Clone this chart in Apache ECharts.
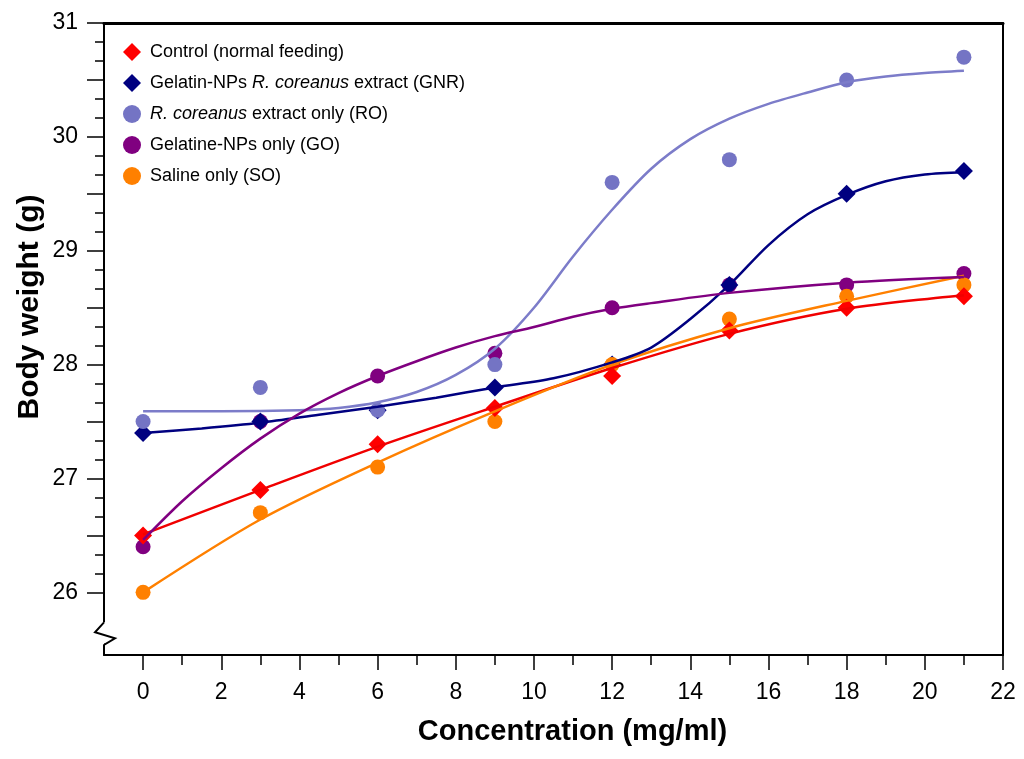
<!DOCTYPE html>
<html><head><meta charset="utf-8">
<script src="https://cdn.jsdelivr.net/npm/echarts@6/dist/echarts.min.js"></script>
<style>html,body{margin:0;padding:0;background:#fff}#c{width:1024px;height:759px}</style>
</head><body><div id="c"></div>
<script>
// ---- measured data points ----
const concentrations = [0, 3, 6, 9, 12, 15, 18, 21];
const controlValues = [26.5, 26.9, 27.3, 27.62, 27.9, 28.3, 28.5, 28.6];
const gnrValues     = [27.4, 27.5, 27.6, 27.8, 28.0, 28.7, 29.5, 29.7];
const roValues      = [27.5, 27.8, 27.6, 28.0, 29.6, 29.8, 30.5, 30.7];
const goValues      = [26.4, 27.5, 27.9, 28.1, 28.5, 28.7, 28.7, 28.8];
const soValues      = [26.0, 26.7, 27.1, 27.5, 28.0, 28.4, 28.6, 28.7];

// ---- fitted curves ----
const controlFitX = [0, 3, 6, 9, 12, 15, 18, 21];
const controlFitY = [26.51, 26.90, 27.28, 27.63, 27.97, 28.27, 28.49, 28.61];
const soFitX = [0, 3, 6, 9, 12, 15, 18, 21];
const soFitY = [26.0, 26.64, 27.14, 27.59, 28.0, 28.32, 28.56, 28.78];
const gnrFitX = [0, 1.5, 3, 4.5, 6, 7.5, 9, 10.5, 12, 13, 14, 15, 16, 17, 18, 19, 20, 21];
const gnrFitY = [27.40, 27.44, 27.49, 27.56, 27.63, 27.71, 27.80, 27.88, 28.02, 28.15, 28.40, 28.70, 29.05, 29.32, 29.49, 29.61, 29.67, 29.69];
const roFitX = [0, 2, 4, 5, 6, 7, 8, 9, 10, 11, 12, 13, 14, 15, 16, 17, 18, 19, 20, 21];
const roFitY = [27.59, 27.59, 27.60, 27.62, 27.67, 27.76, 27.91, 28.14, 28.50, 28.95, 29.36, 29.72, 29.98, 30.16, 30.29, 30.39, 30.48, 30.53, 30.56, 30.58];
const goFitX = [0, 1, 2, 3, 4, 5, 6, 7, 8, 9, 10, 11, 12, 13, 15, 18, 21];
const goFitY = [26.46, 26.80, 27.09, 27.35, 27.57, 27.75, 27.90, 28.03, 28.15, 28.25, 28.33, 28.42, 28.49, 28.54, 28.63, 28.72, 28.77];

// ---- tick labels ----
const xTickLabels = [0, 2, 4, 6, 8, 10, 12, 14, 16, 18, 20, 22];
const yTickLabels = [26, 27, 28, 29, 30, 31];

const seriesNames = [
  'Control (normal feeding)',
  'Gelatin-NPs R. coreanus extract (GNR)',
  'R. coreanus extract only (RO)',
  'Gelatine-NPs only (GO)',
  'Saline only (SO)'
];
const colors = { control: '#FF0000', gnr: '#000080', ro: '#7474C4', roLine: '#7C7CC9', go: '#800080', so: '#FF8000' };

const pairs = (xs, ys) => xs.map((x, i) => [x, ys[i]]);

const X_MIN = -1, X_MAX = 22, Y_MIN = 25.45, Y_MAX = 31;
const xMinor = []; for (let v = 1; v <= 21; v += 2) xMinor.push(v);
const yMajor = []; for (let v = 26; v <= 31.001; v += 0.5) yMajor.push(+v.toFixed(2));
const yMinor = []; for (let k = 0; k < 30; k++) { if (k % 3 !== 0) yMinor.push(26 + k / 6); }

const chart = echarts.init(document.getElementById('c'), null, { renderer: 'canvas' });

function scatter(name, vals, symbol, size, color, z) {
  return { type: 'scatter', name, data: pairs(concentrations, vals), symbol, symbolSize: size,
           itemStyle: { color, opacity: 1 }, z, silent: true };
}
function fit(name, xs, ys, color, z) {
  return { type: 'line', name, data: pairs(xs, ys), showSymbol: false, smooth: 0.3,
           lineStyle: { color, width: 2.5 }, z, silent: true };
}

const diamondIcon = 'path://M0,-1L1,0L0,1L-1,0Z';
const option = {
  animation: false,
  backgroundColor: '#fff',
  grid: { left: 104, right: 21, top: 23, bottom: 104 },
  legend: {
    data: [
      { name: seriesNames[0], icon: diamondIcon },
      { name: seriesNames[1], icon: diamondIcon },
      { name: seriesNames[2], icon: 'circle' },
      { name: seriesNames[3], icon: 'circle' },
      { name: seriesNames[4], icon: 'circle' }
    ],
    orient: 'vertical', left: 118, top: 38,
    itemWidth: 18, itemHeight: 18, itemGap: 13,
    selectedMode: false,
    formatter: n => n.replace('R. coreanus', '{i|R. coreanus}'),
    textStyle: { fontFamily: 'Liberation Sans, Arial, sans-serif', fontSize: 18, color: '#000', padding: [0, 0, 0, 4],
      rich: { i: { fontStyle: 'italic', fontFamily: 'Liberation Sans, Arial, sans-serif', fontSize: 18, color: '#000' } } }
  },
  xAxis: [
    { type: 'value', min: X_MIN, max: X_MAX, position: 'bottom',
      axisLine: { show: true, onZero: false, lineStyle: { color: '#000', width: 2 } },
      axisTick: { show: true, customValues: xTickLabels, length: 15, lineStyle: { color: '#000', width: 1.5 } },
      axisLabel: { show: true, customValues: xTickLabels, margin: 26, fontSize: 23, color: '#000',
                   fontFamily: 'Liberation Sans Narrow, Arial Narrow, Liberation Sans, sans-serif' },
      splitLine: { show: false } },
    { type: 'value', min: X_MIN, max: X_MAX, position: 'bottom', offset: 0,
      axisLine: { show: false, onZero: false }, axisLabel: { show: false }, splitLine: { show: false },
      axisTick: { show: true, customValues: xMinor, length: 10, lineStyle: { color: '#000', width: 1.5 } } },
    { type: 'value', min: X_MIN, max: X_MAX, position: 'top',
      axisLine: { show: true, onZero: false, lineStyle: { color: '#000', width: 3 } },
      axisTick: { show: false }, axisLabel: { show: false }, splitLine: { show: false } }
  ],
  yAxis: [
    { type: 'value', min: Y_MIN, max: Y_MAX, position: 'left',
      axisLine: { show: true, onZero: false, lineStyle: { color: '#000', width: 2 } },
      axisTick: { show: true, customValues: yMajor, length: 17, lineStyle: { color: '#000', width: 1.5 } },
      axisLabel: { show: true, customValues: yTickLabels, margin: 26, fontSize: 23, color: '#000',
                   fontFamily: 'Liberation Sans, Arial, sans-serif' },
      splitLine: { show: false } },
    { type: 'value', min: Y_MIN, max: Y_MAX, position: 'left', offset: 0,
      axisLine: { show: false, onZero: false }, axisLabel: { show: false }, splitLine: { show: false },
      axisTick: { show: true, customValues: yMinor, length: 9, lineStyle: { color: '#000', width: 1.5 } } },
    { type: 'value', min: Y_MIN, max: Y_MAX, position: 'right',
      axisLine: { show: true, onZero: false, lineStyle: { color: '#000', width: 2 } },
      axisTick: { show: false }, axisLabel: { show: false }, splitLine: { show: false } }
  ],
  series: [
    scatter(seriesNames[1], gnrValues, 'diamond', 18, colors.gnr, 4),
    scatter(seriesNames[2], roValues, 'circle', 15, colors.ro, 5),
    scatter(seriesNames[4], soValues, 'circle', 15, colors.so, 6),
    scatter(seriesNames[0], controlValues, 'diamond', 18, colors.control, 7),
    scatter(seriesNames[3], goValues, 'circle', 15, colors.go, 3),
    fit('Control fit', controlFitX, controlFitY, '#F00000', 10),
    fit('SO fit', soFitX, soFitY, colors.so, 11),
    fit('GNR fit', gnrFitX, gnrFitY, colors.gnr, 12),
    fit('RO fit', roFitX, roFitY, colors.roLine, 13),
    fit('GO fit', goFitX, goFitY, colors.go, 14)
  ]
};
chart.setOption(option);

// axis break on the y axis and axis titles
const p1 = chart.convertToPixel({ xAxisIndex: 0, yAxisIndex: 0 }, [X_MIN, 25.737]);
const p2 = chart.convertToPixel({ xAxisIndex: 0, yAxisIndex: 0 }, [X_MIN, 25.544]);
const x0 = p1[0], yTop = p1[1], yBot = p2[1];
const h = yBot - yTop;
const left = chart.convertToPixel({ xAxisIndex: 0 }, X_MIN);
const right = chart.convertToPixel({ xAxisIndex: 0 }, X_MAX);
const bottomPx = chart.convertToPixel({ yAxisIndex: 0 }, Y_MIN);
const topPx = chart.convertToPixel({ yAxisIndex: 0 }, Y_MAX);

chart.setOption({
  graphic: [
    { type: 'rect', shape: { x: x0 - 3, y: yTop, width: 6, height: h }, style: { fill: '#fff' }, z: 100 },
    { type: 'polyline', shape: { points: [[x0, yTop], [x0 - 9, yTop + h * 0.45], [x0 + 11, yTop + h * 0.73], [x0 + 1, yBot], [x0, yBot]] },
      style: { stroke: '#000', lineWidth: 2, fill: null }, z: 101 },
    { type: 'text', x: (left + right) / 2 + 19, y: bottomPx + 77, z: 50,
      style: { text: 'Concentration (mg/ml)', fill: '#000', fontSize: 29, fontWeight: 'bold',
               fontFamily: 'Liberation Sans Narrow, Arial Narrow, Liberation Sans, sans-serif',
               align: 'center', verticalAlign: 'middle' } },
    { type: 'text', x: 30, y: (topPx + bottomPx) / 2 - 32, rotation: Math.PI / 2, z: 50,
      style: { text: 'Body weight (g)', fill: '#000', fontSize: 30, fontWeight: 'bold',
               fontFamily: 'Liberation Sans, Arial, sans-serif',
               align: 'center', verticalAlign: 'middle' } }
  ]
});
</script>
</body></html>
